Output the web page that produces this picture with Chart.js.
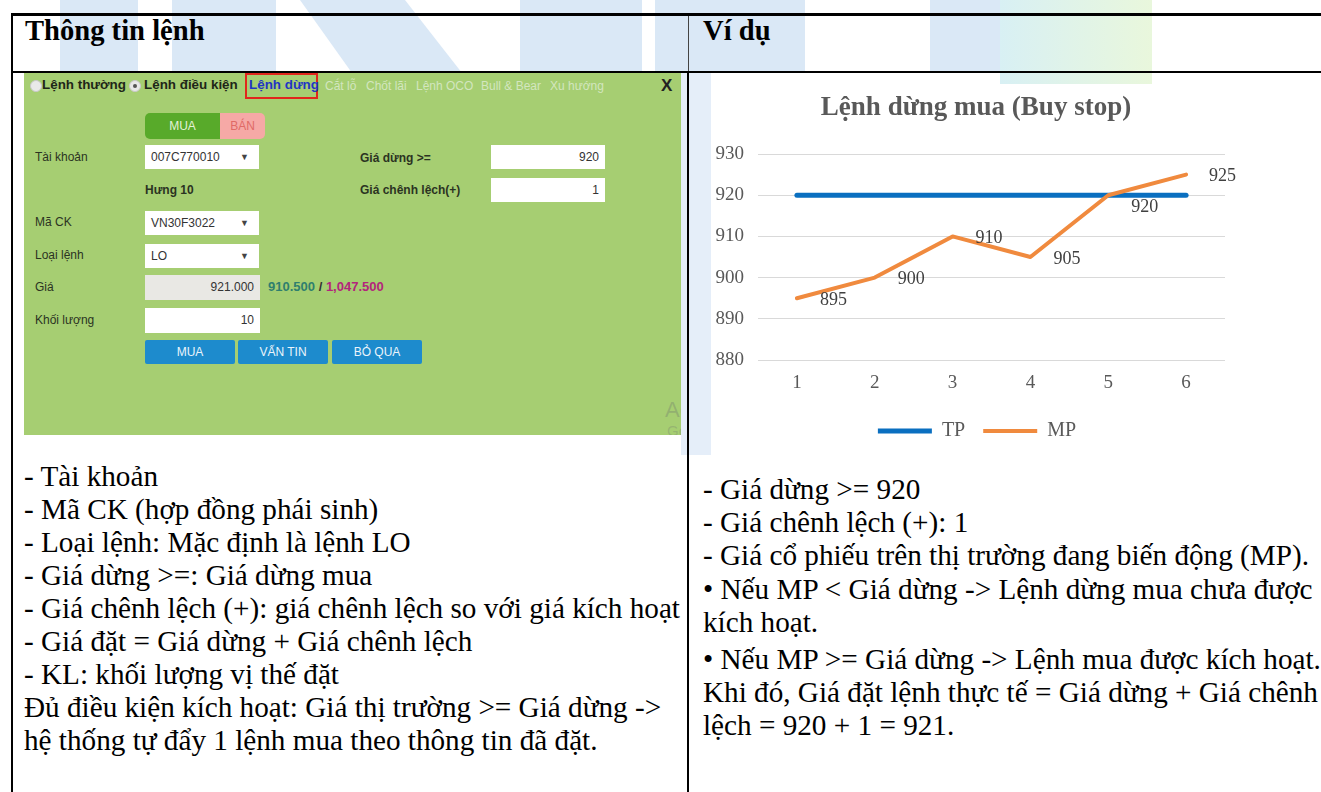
<!DOCTYPE html>
<html lang="vi">
<head>
<meta charset="utf-8">
<title>Lệnh dừng mua</title>
<script src="https://cdn.jsdelivr.net/npm/chart.js@4.4.1/dist/chart.umd.min.js"></script>
<style>
  html, body { margin: 0; padding: 0; background: #fff; }
  #page { position: relative; width: 1321px; height: 792px; overflow: hidden; background: #fff;
          font-family: "Liberation Serif", "Times New Roman", serif; color: #000; }
  #wm { position: absolute; left: 0; top: 0; }
  .rule { position: absolute; background: #000; }
  .hd { position: absolute; top: 14px; font-weight: bold; font-size: 28.6px; line-height: 33px; white-space: nowrap; }
  .txt { position: absolute; font-size: 29.2px; line-height: 33px; white-space: nowrap; }
  .txt p { margin: 0; }

  /* order-entry panel */
  #panel { position: absolute; left: 24px; top: 73px; width: 657px; height: 362px; background: #a6ce72;
           overflow: hidden; font-family: "Liberation Sans", Arial, sans-serif; font-size: 12px; color: #2b3322; }
  #panel .a { position: absolute; white-space: nowrap; line-height: 16px; }
  .tabb { font-weight: bold; font-size: 13.4px; color: #1e2618; }
  .tabi { color: #d3e6bf; font-size: 12px; }
  .radio { position: absolute; width: 10px; height: 10px; border-radius: 50%; background: #e9e9e9; border: 1px solid #c9c9c9; }
  .radio.on::after { content: ""; position: absolute; left: 3px; top: 3px; width: 4px; height: 4px; border-radius: 50%; background: #555; }
  .box { position: absolute; background: #fff; box-sizing: border-box; padding: 0 6px; line-height: 24px; font-size: 12px; color: #333; }
  .sel::after { content: "\25BC"; position: absolute; right: 10px; top: 0; font-size: 9px; color: #444; }
  .num { text-align: right; }
  .btn { position: absolute; background: #1d8bcd; color: #eaf4fb; text-align: center; line-height: 24px; font-size: 12px; border-radius: 2px; }
</style>
</head>
<body>
<div id="page">
  <!-- faint logo watermark behind the document -->
  <svg id="wm" width="1321" height="792">
    <defs>
      <linearGradient id="gg" x1="0" y1="0" x2="1" y2="0">
        <stop offset="0" stop-color="#d8f0f4"/>
        <stop offset="1" stop-color="#e9f7dc"/>
      </linearGradient>
    </defs>
    <g fill="#dae8f6">
      <rect x="60" y="0" width="78" height="73"/>
      <rect x="172" y="0" width="104" height="73"/>
      <polygon points="300,0 405,0 462,73 352,73"/>
      <rect x="520" y="0" width="122" height="73"/>
      <rect x="655" y="0" width="150" height="73"/>
      <rect x="930" y="0" width="72" height="73"/>
      <rect x="681" y="73" width="30" height="382" fill="#e5eef9"/>
    </g>
    <rect x="1000" y="0" width="152" height="84" fill="url(#gg)"/>
  </svg>

  <!-- table rules -->
  <div class="rule" style="left:11px; top:13px; width:1310px; height:3px;"></div>
  <div class="rule" style="left:11px; top:71px; width:1310px; height:2px;"></div>
  <div class="rule" style="left:11px; top:13px; width:2px; height:779px;"></div>
  <div class="rule" style="left:688px; top:16px; width:1px; height:55px; background:#444;"></div>
  <div class="rule" style="left:687px; top:73px; width:2px; height:719px;"></div>

  <div class="hd" style="left:25px;">Thông tin lệnh</div>
  <div class="hd" style="left:703px;">Ví dụ</div>

  <!-- order-entry form -->
  <div id="panel">
    <div class="radio" style="left:6px; top:7px;"></div>
    <div class="a tabb" style="left:18px; top:4px;">Lệnh thường</div>
    <div class="radio on" style="left:105px; top:7px;"></div>
    <div class="a tabb" style="left:120px; top:4px;">Lệnh điều kiện</div>
    <div style="position:absolute; left:221px; top:0; width:73px; height:26px; box-sizing:border-box; border:2px solid #e1261c;"></div>
    <div class="a tabb" style="left:225px; top:4px; color:#1f36c4;">Lệnh dừng</div>
    <div class="a tabi" style="left:301px; top:5px;">Cắt lỗ</div>
    <div class="a tabi" style="left:342px; top:5px;">Chốt lãi</div>
    <div class="a tabi" style="left:392px; top:5px;">Lệnh OCO</div>
    <div class="a tabi" style="left:457px; top:5px;">Bull &amp; Bear</div>
    <div class="a tabi" style="left:526px; top:5px;">Xu hướng</div>
    <div class="a" style="left:637px; top:5px; font-size:17px; font-weight:bold; color:#222;">X</div>

    <div style="position:absolute; left:121px; top:40px; width:75px; height:26px; background:#58aa2a; border-radius:5px 0 0 5px; color:#e3f2d6; text-align:center; line-height:26px;">MUA</div>
    <div style="position:absolute; left:196px; top:40px; width:45px; height:26px; background:#f6a9a6; border-radius:0 5px 5px 0; color:#e06a66; text-align:center; line-height:26px;">BÁN</div>

    <div class="a" style="left:11px; top:76px;">Tài khoản</div>
    <div class="box sel" style="left:121px; top:72px; width:114px; height:24px;">007C770010</div>
    <div class="a" style="left:336px; top:77px; font-weight:bold;">Giá dừng &gt;=</div>
    <div class="box num" style="left:467px; top:72px; width:114px; height:24px;">920</div>

    <div class="a" style="left:121px; top:109px; font-weight:bold;">Hưng 10</div>
    <div class="a" style="left:336px; top:109px; font-weight:bold;">Giá chênh lệch(+)</div>
    <div class="box num" style="left:467px; top:105px; width:114px; height:24px;">1</div>

    <div class="a" style="left:11px; top:141px;">Mã CK</div>
    <div class="box sel" style="left:121px; top:138px; width:114px; height:24px;">VN30F3022</div>

    <div class="a" style="left:11px; top:174px;">Loại lệnh</div>
    <div class="box sel" style="left:121px; top:171px; width:114px; height:24px;">LO</div>

    <div class="a" style="left:11px; top:206px;">Giá</div>
    <div class="box num" style="left:121px; top:202px; width:115px; height:25px; background:#e9e8e4;">921.000</div>
    <div class="a" style="left:244px; top:206px; font-weight:bold; font-size:13px;"><span style="color:#2f7f6e;">910.500</span> <span style="color:#333;">/</span> <span style="color:#b3257c;">1,047.500</span></div>

    <div class="a" style="left:11px; top:239px;">Khối lượng</div>
    <div class="box num" style="left:121px; top:235px; width:115px; height:25px;">10</div>

    <div class="btn" style="left:121px; top:267px; width:90px; height:24px;">MUA</div>
    <div class="btn" style="left:214px; top:267px; width:90px; height:24px;">VẤN TIN</div>
    <div class="btn" style="left:308px; top:267px; width:90px; height:24px;">BỎ QUA</div>

    <div class="a" style="left:641px; top:325px; font-size:22px; line-height:24px; color:rgba(110,120,110,0.35);">Ac</div>
    <div class="a" style="left:643px; top:350px; font-size:15px; color:rgba(110,120,110,0.3);">Go</div>
  </div>

  <!-- example chart -->
  <canvas id="buyStop" width="610" height="371"
          style="position:absolute; left:711px; top:84px; width:610px; height:371px; background:#fff;"></canvas>

  <div class="txt" style="left:24px; top:459.5px;">
    <p>- Tài khoản</p>
    <p>- Mã CK (hợp đồng phái sinh)</p>
    <p>- Loại lệnh: Mặc định là lệnh LO</p>
    <p>- Giá dừng &gt;=: Giá dừng mua</p>
    <p>- Giá chênh lệch (+): giá chênh lệch so với giá kích hoạt</p>
    <p>- Giá đặt = Giá dừng + Giá chênh lệch</p>
    <p>- KL: khối lượng vị thế đặt</p>
    <p>Đủ điều kiện kích hoạt: Giá thị trường &gt;= Giá dừng -&gt;</p>
    <p>hệ thống tự đẩy 1 lệnh mua theo thông tin đã đặt.</p>
  </div>

  <div class="txt" style="left:703px; top:473.3px;">
    <p>- Giá dừng &gt;= 920</p>
    <p>- Giá chênh lệch (+): 1</p>
    <p>- Giá cổ phiếu trên thị trường đang biến động (MP).</p>
    <p style="margin-top:1px;">• Nếu MP &lt; Giá dừng -&gt; Lệnh dừng mua chưa được<br>kích hoạt.</p>
    <p style="margin-top:4px;">• Nếu MP &gt;= Giá dừng -&gt; Lệnh mua được kích hoạt.<br>Khi đó, Giá đặt lệnh thực tế = Giá dừng + Giá chênh<br>lệch = 920 + 1 = 921.</p>
  </div>
</div>

<script>
  // Chart data
  const steps = ['1', '2', '3', '4', '5', '6'];
  const stopPrice = [920, 920, 920, 920, 920, 920];     // TP
  const marketPrice = [895, 900, 910, 905, 920, 925];   // MP
  const priceTicks = [880, 890, 900, 910, 920, 930];
  const seriesNames = ['TP', 'MP'];
  const chartTitle = 'Lệnh dừng mua (Buy stop)';

  const SERIF = '"Liberation Serif", "Times New Roman", serif';
  const AXIS_GREY = '#595959';

  // Writes each point's value to the right of the marker
  const valueLabels = {
    id: 'valueLabels',
    afterDatasetsDraw(chart, args, opts) {
      const meta = chart.getDatasetMeta(opts.datasetIndex);
      const values = chart.data.datasets[opts.datasetIndex].data;
      const ctx = chart.ctx;
      ctx.save();
      ctx.font = opts.font;
      ctx.fillStyle = opts.color;
      ctx.textAlign = 'left';
      ctx.textBaseline = 'middle';
      meta.data.forEach((pt, i) => {
        const dy = (opts.nudgeY && opts.nudgeY[i]) || 0;
        ctx.fillText(String(values[i]), pt.x + opts.offsetX, pt.y + opts.offsetY + dy);
      });
      ctx.restore();
    }
  };

  // Centres title and legend a little further right, over the plot rather than the whole canvas
  const shiftBlocks = {
    id: 'shiftBlocks',
    afterLayout(chart, args, opts) {
      const move = (box, dx) => { if (box) { box.left += dx; box.right += dx; } };
      move(chart.titleBlock, opts.title);
      move(chart.legend, opts.legend);
    }
  };

  new Chart(document.getElementById('buyStop'), {
    type: 'line',
    data: {
      labels: steps,
      datasets: [
        {
          label: seriesNames[0],
          data: stopPrice,
          borderColor: '#0a6fc0',
          backgroundColor: '#0a6fc0',
          borderWidth: 5,
          borderCapStyle: 'round',
          pointRadius: 0,
          tension: 0,
          order: 1
        },
        {
          label: seriesNames[1],
          data: marketPrice,
          borderColor: '#f08a3e',
          backgroundColor: '#f08a3e',
          borderWidth: 4,
          borderCapStyle: 'round',
          borderJoinStyle: 'round',
          pointRadius: 0,
          tension: 0,
          order: 0
        }
      ]
    },
    options: {
      responsive: false,
      animation: false,
      devicePixelRatio: 1,
      events: [],
      layout: { padding: { left: 0, right: 96, top: 0, bottom: 4 } },
      plugins: {
        title: {
          display: true,
          text: chartTitle,
          color: AXIS_GREY,
          font: { family: SERIF, size: 27, weight: 'bold' },
          padding: { top: 7.8, bottom: 29.8 }
        },
        legend: {
          position: 'bottom',
          labels: {
            usePointStyle: true,
            pointStyle: 'line',
            pointStyleWidth: 54,
            padding: 18,
            color: AXIS_GREY,
            font: { family: SERIF, size: 20 },
            sort: (a, b) => a.datasetIndex - b.datasetIndex
          }
        },
        tooltip: { enabled: false },
        valueLabels: {
          datasetIndex: 1,
          font: '18px ' + SERIF,
          color: '#404040',
          offsetX: 23,
          offsetY: 2,
          nudgeY: { 4: 10 }
        },
        shiftBlocks: { title: 8, legend: 9 }
      },
      scales: {
        x: {
          offset: true,
          grid: { display: false, drawTicks: false },
          border: { display: false },
          ticks: { padding: 12, color: AXIS_GREY, font: { family: SERIF, size: 19 } },
          afterFit(scale) { scale.height = 43; }
        },
        y: {
          min: priceTicks[0],
          max: priceTicks[priceTicks.length - 1],
          grid: { color: '#d9d9d9', lineWidth: 1, drawTicks: false },
          border: { display: false },
          ticks: { padding: 14, color: AXIS_GREY, font: { family: SERIF, size: 19 } },
          afterBuildTicks(scale) { scale.ticks = priceTicks.map(v => ({ value: v })); },
          afterFit(scale) { scale.width = 47; }
        }
      }
    },
    plugins: [valueLabels, shiftBlocks]
  });
</script>
</body>
</html>
